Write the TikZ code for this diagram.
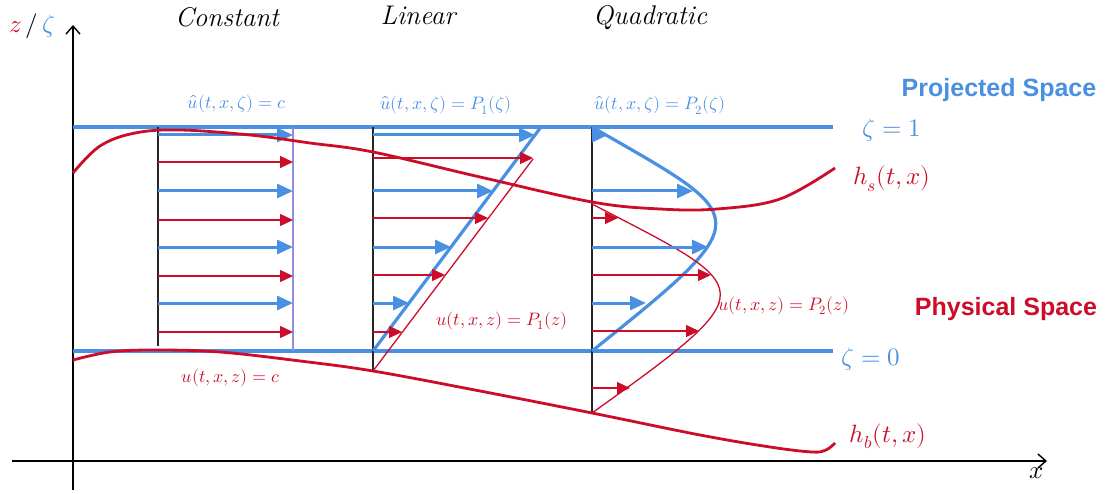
\documentclass[tikz,border=0pt]{standalone}
\usepackage{amsmath}
\usepackage{fontspec}
\usepackage{unicode-math}
\newfontfamily\spacefont{Liberation Sans}
\usepackage{xcolor}
\usepackage{tikz}
\usetikzlibrary{arrows.meta}

\definecolor{zblue}{RGB}{74,144,226}
\definecolor{zred}{RGB}{204,12,40}
\definecolor{zlilac}{RGB}{150,140,220}

\begin{document}
\begin{tikzpicture}[
  x=1pt, y=-1pt,
  axis/.style={-{Straight Barb[length=8pt,width=14pt]}, line width=1.4pt},
  surface/.style={zred, line width=2.8pt},
  level/.style={zblue, line width=4pt},
  stem/.style={black!85, line width=1.3pt},
  bvel/.style={zblue, line width=3pt, -{Triangle[length=16pt,width=14pt]}},
  rvel/.style={zred, line width=1.2pt, -{Triangle[length=13pt,width=12pt]}},
  bprof/.style={zblue, line width=3.2pt},
  rprof/.style={zred, line width=1.3pt},
  title/.style={font=\fontsize{27}{30}\selectfont\itshape, anchor=base},
  blbl/.style={zblue, font=\fontsize{18}{20}\selectfont, anchor=base},
  rlbl/.style={zred, font=\fontsize{18}{20}\selectfont, anchor=base},
  big/.style={font=\fontsize{25}{30}\selectfont, anchor=base},
  space/.style={font=\spacefont\bfseries\fontsize{25}{30}\selectfont, anchor=base},
]
\useasboundingbox (0,0) rectangle (1107,494);

\draw[axis] (73,490) -- (73,25);
\draw[axis] (12,461) -- (1047,461);
\node[big] (zlabel) at (32,33) {$\textcolor{zred}{z}\,/\,\textcolor{zblue}{\zeta}$};
\node[big] (xlabel) at (1037,478) {$x$};

\draw[level] (73,127) -- (833,127);
\draw[level] (73,351) -- (833,351);

% constant
\draw[stem] (158,127) -- (158,346);
\draw[zlilac, line width=1.2pt] (293,127) -- (293,351);
\foreach \y in {135,191,247,303}
  \draw[bvel] (158,\y) -- (293,\y);
\foreach \y in {162,220,276,332}
  \draw[rvel] (158,\y) -- (293,\y);

% linear
\draw[stem] (373,127) -- (373,371);
\draw[bprof] (373,351) -- (541,127);
\draw[rprof] (373,371) -- (533,159);
\foreach \y/\u in {135/535,191/493,247/451,303/409}
  \draw[bvel] (373,\y) -- (\u,\y);
\foreach \y/\u in {158/533,218/488,275/445,332/402}
  \draw[rvel] (373,\y) -- (\u,\y);

% quadratic
\draw[stem] (592,127) -- (592,413);
\draw[bprof] (592,351) .. controls (762,215) and (752,219) .. (592,127);
\draw[rprof] (592,413) .. controls (768,287) and (758,290) .. (592,204);
\foreach \y/\u in {135/608,191/693,247/708,303/646}
  \draw[bvel] (592,\y) -- (\u,\y);
\foreach \y/\u in {218/618,275/711,331/699,388/630}
  \draw[rvel] (592,\y) -- (\u,\y);

% free surface and bottom
\draw[surface] plot[smooth, tension=0.6] coordinates {(73,173) (100,146) (135,133) (180,130) (250,135) (310,143) (373,152) (480,177) (592,202) (660,209) (717,209) (780,199) (835,168)};
\draw[surface] plot[smooth, tension=0.6] coordinates {(73,360) (110,352) (155,350) (220,352) (300,361) (373,371) (480,391) (592,413) (700,435) (770,447) (812,452) (826,450) (835,443)};

\node[title] (tconst) at (227,27) {Constant};
\node[title] (tlin) at (418,25) {Linear};
\node[title] (tquad) at (650,25) {Quadratic};

\node[blbl] (uconst) at (237,109) {$\widehat{u}(t,x,\zeta)=c$};
\node[blbl] (ulin) at (446,110) {$\widehat{u}(t,x,\zeta)=P_1(\zeta)$};
\node[blbl] (uquad) at (660,110) {$\widehat{u}(t,x,\zeta)=P_2(\zeta)$};
\node[rlbl] (zconst) at (231,382) {$u(t,x,z)=c$};
\node[rlbl] (zlin) at (502,325) {$u(t,x,z)=P_1(z)$};
\node[rlbl] (zquad) at (784,310) {$u(t,x,z)=P_2(z)$};

\node[big, zblue] (zeta1) at (892,137) {$\zeta=1$};
\node[big, zblue] (zeta0) at (871,365) {$\zeta=0$};
\node[big, zred] (hs) at (892,185) {$h_s(t,x)$};
\node[big, zred] (hb) at (888,442) {$h_b(t,x)$};
\node[space, zblue] (proj) at (999,97) {Projected Space};
\node[space, zred] (phys) at (1006,315) {Physical Space};
\end{tikzpicture}
\end{document}
